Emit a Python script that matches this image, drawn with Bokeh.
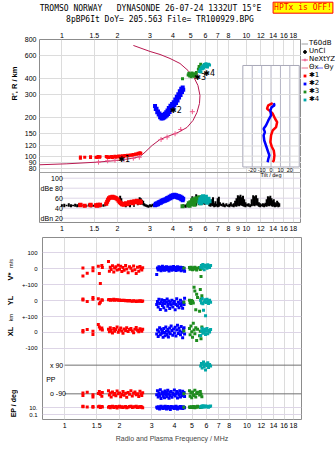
import math
from bokeh.plotting import figure
from bokeh.models import (Range1d, LinearScale, FixedTicker, NumeralTickFormatter, Label,
                          Legend, LegendItem, Span, LogAxis)
from bokeh.layouts import column, row
from bokeh.embed import file_html
from bokeh.resources import INLINE
from bokeh.core.properties import value

# ---------------- ticks / labels ----------------
freq_ticks = [1, 1.5, 2, 3, 4, 5, 6, 7, 8, 10, 12, 14, 16, 18]
freq_ticks_mid = [1, 1.5, 2, 3, 4, 5, 6, 7, 8, 9, 10, 12, 14, 16, 18]
height_ticks = [80, 90, 100, 120, 150, 200, 300, 400, 600, 800]
db_ticks = [100, 80, 60, 40, 20]
db_tick_labels = ["100", "dBe 80", "60", "40", "dBn 20"]
tilt_ticks = [-20, -10, 0, 10, 20]
lower_ticks = [100, 0, -100, -200, -300, -400, -500]
lower_tick_labels = ["100", "0", "+-100", "0", "+-100", "0", "-100"]
ep_ticks = [10, 0.1]
ep_tick_labels = ["10.", "0.1"]

# ---------------- real-height profile (NeXtYZ) ----------------
prof_f = [0.756, 1.064, 1.547, 1.985, 2.442, 2.654, 2.825, 3.083, 3.406, 3.858, 4.264, 4.768,
          5.139, 5.402, 5.574, 5.609, 5.470, 5.204, 4.829, 4.370, 3.858, 3.406, 3.007, 2.442]
prof_h = [85.8, 87.3, 89.9, 92.6, 96.5, 99.5, 107.4, 121.0, 134.7, 144.6, 152.6, 166.8,
          188.9, 217.9, 255.8, 295.0, 352.5, 406.5, 460.6, 521.9, 570.5, 612.7, 646.2, 719.3]
nx_f = [1.58, 1.77, 1.94, 2.17, 2.44, 2.63, 3.45, 3.72, 4.11, 4.41, 5.10]
nx_h = [89.9, 92.1, 93.1, 94.3, 96.5, 98.2, 134.7, 140.5, 149.1, 161.0, 221.0]

# ---------------- echo groups ----------------
r_f = [1.26, 1.26, 1.33, 1.43, 1.43, 1.53, 1.55, 1.57, 1.60, 1.61,
       1.74, 1.76, 1.78, 1.80, 1.83, 1.86, 1.88, 1.91, 1.94, 1.97,
       2.00, 2.03, 2.06, 2.09, 2.12, 2.16, 2.19, 2.23, 2.27, 2.31,
       2.35, 2.39, 2.43, 2.47, 2.51, 2.55, 2.59, 2.62, 2.65, 2.68]
r_h = [96.5, 98.5, 98.2, 98.9, 97.8, 98.2, 97.5, 99.4, 98.0, 99.2,
       99.4, 98.0, 99.0, 97.5, 98.6, 99.6, 97.8, 98.9, 99.8, 98.2,
       99.3, 100.2, 98.6, 99.9, 100.8, 99.5, 101.2, 100.4, 101.8, 100.9,
       102.3, 101.5, 103.2, 102.4, 104.0, 103.3, 105.2, 104.4, 106.3, 105.5]
r_db = [46, 47, 45, 46, 47, 46, 45, 47, 46, 47,
        49, 53, 57, 60, 62, 61, 63, 62, 61, 60,
        58, 55, 52, 50, 48, 47, 49, 50, 48, 52,
        51, 53, 50, 54, 52, 55, 53, 51, 54, 52]
r_v = [4, -45, -28, 6, -12, 16, -30, -92, 20, 8,
       45, -15, 10, -5, 18, -20, 5, 12, -8, 22,
       -3, 15, -18, 8, -10, 20, -2, -25, 12, 3,
       -12, 17, -6, -30, 9, -15, 14, 2, -8, 6]
r_yl = [10, 4, -5, 20, 8, 12, -20, -10, 5, 2,
        5, 7, 3, 6, 4, 8, 2, 5, 6, 3,
        4, 1, 3, 0, 2, -1, 1, -3, 0, -2,
        -4, -1, -3, -5, -2, -4, -1, -3, -6, -2]
r_xl = [12, 3, 18, -12, 8, 50, 35, 22, 28, 15,
        20, 5, 30, 12, -3, 25, 8, 18, 35, 2,
        15, 28, 10, -5, 22, 12, 30, 6, 18, 25,
        10, -2, 20, 32, 14, 5, 24, 16, 8, 20]
r_pp = [-85, -100, -80, -95, -110, -88, -75, -92, -105, -82,
        -70, -98, -85, -110, -78, -95, -88, -102, -72, -90,
        -84, -108, -94, -76, -99, -86, -112, -81, -93, -70,
        -104, -87, -79, -96, -89, -107, -74, -91, -100, -83]
r_ep = [18, 22, 14, 20, 12, 16, 24, 10, 19, 15,
        13, 21, 9, 17, 25, 11, 14, 20, 8, 16,
        23, 12, 18, 10, 15, 21, 9, 13, 19, 24,
        11, 16, 14, 22, 10, 18, 12, 20, 15, 9]

b_f = [3.20, 3.23, 3.26, 3.29, 3.32, 3.35, 3.38, 3.41, 3.44, 3.47,
       3.50, 3.53, 3.56, 3.59, 3.62, 3.65, 3.68, 3.71, 3.74, 3.77,
       3.80, 3.84, 3.88, 3.92, 3.96, 4.00, 4.04, 4.08, 4.12, 4.16,
       4.20, 4.24, 4.28, 4.32, 4.36, 4.40, 4.44, 4.48, 4.52, 4.55]
b_h = [245, 232, 233, 219, 222, 210, 214, 200, 208, 196,
       207, 197, 209, 199, 213, 203, 219, 207, 226, 212,
       236, 220, 246, 230, 254, 238, 262, 248, 274, 258,
       288, 270, 302, 284, 318, 298, 332, 314, 340, 326]
b_db = [46, 49, 47, 50, 48, 52, 50, 53, 51, 55,
        53, 56, 54, 57, 55, 58, 56, 60, 57, 61,
        59, 63, 60, 65, 62, 66, 63, 67, 64, 66,
        62, 65, 61, 64, 60, 63, 58, 61, 56, 59]
b_v = [-36, 5, -8, 12, -3, 8, -12, 2, 15, -6,
       4, -10, 9, -2, 13, -7, 0, 10, -14, 6,
       -4, 11, -9, 3, 14, -5, 7, -11, 1, 12,
       -8, 5, -3, 10, -12, 4, 8, -6, 2, -15]
b_yl = [-25, -5, -40, 8, -18, -55, -10, 5, -30, -15,
        -45, 0, -20, -60, -8, 10, -35, -22, -3, -50,
        -12, -28, 2, -40, -18, -6, -58, -25, 12, -33,
        -10, -45, -20, 3, -30, -15, -48, -8, -25, 15]
b_xl = [-10, 15, -25, 5, 30, -15, 20, -5, 10, -30,
        25, 0, -20, 35, 8, -12, 18, -28, 3, 28,
        -8, 40, 12, -18, 22, -3, 33, -22, 15, 45,
        -6, 26, 10, -15, 38, 2, -33, 20, 30, -10]
b_pp = [-95, -70, -110, -85, -100, -65, -120, -90, -78, -105,
        -88, -115, -72, -96, -82, -108, -68, -92, -118, -80,
        -100, -75, -112, -86, -94, -66, -104, -90, -76, -116,
        -84, -98, -70, -110, -88, -102, -74, -93, -81, -107]
b_ep = [12, 6, 18, 9, 4, 15, 22, 7, 11, 5,
        16, 8, 25, 10, 4, 13, 19, 6, 9, 14,
        3, 20, 11, 7, 17, 5, 12, 24, 8, 4,
        15, 10, 6, 21, 9, 13, 5, 18, 7, 11]

g_f = [4.51, 4.84, 4.88, 4.93, 4.98, 5.03, 5.08, 5.13, 5.18, 5.24, 5.30, 5.36, 5.50, 5.55, 5.60, 5.66]
g_h = [397, 425, 438, 418, 432, 412, 440, 422, 434, 415, 428, 445, 470, 495, 482, 515]
g_db = [44, 46, 50, 45, 52, 48, 56, 50, 58, 47, 54, 60, 55, 62, 50, 57]
g_v = [5, 8, -3, 10, 2, -6, 6, -2, 9, 0, -8, 4, 7, -5, -48, 3]
g_yl = [-10, 2, -12, -18, 0, -5, -15, 84, 60, -58, 40, 20, -66, 70, 10, 30]
g_xl = [10, 25, -15, 40, 5, -30, 58, 15, -8, 30, -50, 20, -20, 8, -40, 35]
g_pp = [-90, -70, -105, -85, -115, -78, -95, -100, -68, -110, -88, -80, -98, -75, -92, -108]
g_ep = [12, 15, 10, 18, 13, 11, 20, 14, 9, 16, 12, 22, 15, 10, 13, 17]

t_f = [5.58, 5.63, 5.68, 5.73, 5.78, 5.83, 5.88, 5.93, 5.98, 6.04, 6.10, 6.16, 6.24, 6.32]
t_h = [452, 470, 448, 488, 475, 500, 482, 512, 495, 520, 505, 490, 515, 508]
t_db = [52, 58, 50, 62, 55, 64, 57, 60, 53, 63, 56, 51, 59, 54]
t_v = [10, 20, 5, 27, 15, -6, 22, 12, 18, 3, 25, 14, 8, 20]
t_yl = [0, -15, 13, -20, -60, -8, 5, -95, -12, 8, -5, -18, 2, -10]
t_xl = [-19, 10, 27, -5, 15, 0, 20, -12, 8, 25, -8, 12, 3, 18]
t_pp = [85, 100, 72, 95, 110, 80, 92, 60, 98, 88, 105, 76, 94, 84]
t_ep = [15, 25, 12, 30, 18, 22, 14, 28, 20, 16, 24, 12, 19, 26]

mk_f = [2.02, 3.86, 5.22, 5.84]
mk_h = [94.8, 225.9, 406.6, 440.0]
mk_txt = ["\u27311", "\u27312", "\u27313", "\u27314"]

# ---------------- unclassified amplitudes (dB panel) ----------------
u_f = [1.00, 1.03, 1.06, 1.09, 1.12, 1.15, 1.18, 1.21, 1.24, 1.28,
       1.32, 1.36, 1.40, 1.44, 1.48, 1.52, 1.56, 1.60, 1.64, 1.68,
       1.72, 2.07, 2.10, 2.13, 2.22, 2.34, 2.46, 2.58, 2.64, 2.68,
       2.72, 2.76, 2.80, 2.85, 2.90, 2.95, 3.00, 3.05, 3.10, 3.15,
       4.56, 4.62, 4.68, 4.74, 4.80, 5.10, 5.35, 5.85, 5.95, 6.30,
       6.40, 6.50, 6.60, 6.70, 6.80, 6.90, 7.00, 7.10, 7.20, 7.35,
       7.50, 7.65, 7.80, 7.95, 8.10, 8.25, 8.40, 8.55, 8.70, 8.85,
       9.00, 9.15, 9.30, 9.45, 9.60, 9.75, 9.90, 10.1, 10.3, 10.5,
       10.7, 10.9, 11.1, 11.3, 11.5, 11.7, 11.9, 12.1, 12.3, 12.5,
       12.7, 12.9, 13.1, 13.3, 13.5, 13.7, 13.9, 14.1, 14.3, 14.5,
       14.7, 14.9, 15.1]
u_lo = [43, 42, 44, 43, 42, 44, 43, 42, 43, 44,
        42, 43, 44, 42, 43, 44, 43, 42, 44, 43,
        44, 50, 47, 45, 42, 42, 43, 46, 48, 47,
        49, 46, 44, 43, 42, 41, 43, 42, 44, 43,
        42, 43, 41, 42, 43, 46, 45, 48, 47, 44,
        43, 45, 44, 42, 43, 44, 42, 43, 45, 44,
        43, 42, 44, 43, 42, 44, 43, 42, 44, 43,
        45, 44, 46, 45, 44, 43, 42, 44, 43, 42,
        44, 45, 44, 46, 45, 43, 42, 44, 43, 42,
        44, 43, 45, 44, 46, 44, 43, 44, 42, 43,
        44, 42, 43]
u_hi = [48, 49, 47, 50, 48, 47, 49, 48, 50, 47,
        48, 46, 49, 48, 47, 49, 47, 48, 46, 48,
        50, 65, 60, 52, 46, 47, 46, 58, 62, 60,
        57, 55, 50, 48, 47, 46, 48, 47, 49, 47,
        48, 46, 47, 48, 49, 64, 68, 66, 60, 55,
        52, 58, 62, 50, 54, 49, 60, 63, 52, 49,
        51, 48, 50, 47, 49, 52, 48, 50, 55, 60,
        66, 64, 67, 62, 65, 58, 52, 49, 50, 48,
        58, 66, 64, 66, 60, 52, 50, 48, 50, 49,
        51, 58, 64, 62, 65, 60, 56, 58, 52, 50,
        55, 52, 50]

# ---------------- tilt profiles (inset) ----------------
tx_h = [257.7, 247.2, 232.9, 226.1, 213.0, 194.9, 183.6, 167.9, 158.2, 144.7, 128.5, 118.9, 110.7, 101.3, 92.6, 89.9]
tx = [1.8, -3.0, -4.3, -1.8, 1.8, 4.3, 6.5, 5.4, 1.8, 0.0, -0.7, 0.7, 2.9, 3.6, 2.9, 1.8]
ty_h = [257.7, 247.2, 240.0, 226.1, 206.8, 189.1, 173.0, 163.0, 153.5, 144.7, 132.3, 121.0, 110.7, 101.3, 95.4, 89.9]
ty = [2.9, 3.6, 0.7, -0.7, 0.0, -2.9, -5.4, -7.9, -6.5, -7.9, -7.2, -5.4, -3.6, -1.8, -2.9, -3.6]

# ---------------- style ----------------
SANS = "Liberation Sans"
MONO = "DejaVu Sans Mono"
RED, BLUE, GREEN, TEAL = "#ff0000", "#0000ff", "#1e8c1e", "#00a8a8"
CRIMSON, PINK = "#b81850", "#f05a8c"
FRAME = "#8c8c8c"
GRID = "#dcdcdc"
LGRID = "#ddd5e6"

XMIN, XMAX = 0.756, 19.93
DB_SEP = 111.4
INSET_TOP, INSET_BOT = 503.5, 82.5
ROW_V, ROW_YL, ROW_XL = 0, -200, -400
PP_C = -695
EP_BASE, EP_SCALE = -893, 22
OFF = [-5.0]   # legend sample glyphs sit outside the (0,1) strip range, so only the legend shows them


def style_axis(ax, size="7px", standoff=3):
    ax.axis_line_color = None
    ax.major_tick_line_color = None
    ax.minor_tick_line_color = None
    ax.major_tick_out = 0
    ax.major_tick_in = 0
    ax.minor_tick_out = 0
    ax.minor_tick_in = 0
    ax.major_label_text_font = SANS
    ax.major_label_text_font_size = size
    ax.major_label_text_color = "black"
    ax.major_label_standoff = standoff


def blank(width, height):
    f = figure(width=width, height=height, x_range=Range1d(0, 1), y_range=Range1d(0, 1),
               x_axis_location=None, y_axis_location=None,
               output_backend="svg", toolbar_location=None,
               min_border_left=0, min_border_right=0, min_border_top=0, min_border_bottom=0,
               outline_line_color=None, border_fill_color="white", background_fill_color="white")
    f.grid.visible = False
    return f


xr = Range1d(XMIN, XMAX)

# ================= header =================
header = blank(335, 28)
header.add_layout(Label(x=150, y=20, x_units="screen", y_units="screen",
                        text="TROMSO NORWAY\u00a0\u00a0\u00a0DYNASONDE 26-07-24 1332UT 15\u00b0E",
                        text_font=MONO, text_font_size="8px", text_align="center", text_baseline="middle",
                        text_color="black"))
header.add_layout(Label(x=159.5, y=9, x_units="screen", y_units="screen",
                        text="8pBP6It DoY= 205.563 File= TR100929.BPG",
                        text_font=MONO, text_font_size="8px", text_align="center", text_baseline="middle",
                        text_color="black"))
header.add_layout(Label(x=302.5, y=20.8, x_units="screen", y_units="screen", text="HPTx is OFF!",
                        text_font=MONO, text_font_size="8px", text_align="center", text_baseline="middle",
                        text_color="#ff0000", background_fill_color="#ffff00",
                        border_line_color="#ff0000", border_line_width=1, padding=1))

# ================= top figure: heights + amplitudes =================
p1 = figure(width=283, height=209, x_axis_type="log", y_axis_type="log",
            x_range=xr, y_range=Range1d(30.67, 800),
            output_backend="svg", toolbar_location=None,
            min_border_left=21, min_border_right=0, min_border_top=11, min_border_bottom=15,
            outline_line_color=FRAME, border_fill_color="white", background_fill_color="white")
p1.extra_x_ranges = {"tilt": Range1d(-246.3, 32.4)}
p1.extra_x_scales = {"tilt": LinearScale()}
p1.extra_y_ranges = {"db": Range1d(11.4, 377.4)}
p1.extra_y_scales = {"db": LinearScale()}

p1.xaxis.ticker = FixedTicker(ticks=freq_ticks_mid)
p1.xaxis.formatter = NumeralTickFormatter(format="0.[0]")
style_axis(p1.xaxis[0], standoff=3)
top_ax = LogAxis(ticker=FixedTicker(ticks=freq_ticks), formatter=NumeralTickFormatter(format="0.[0]"))
style_axis(top_ax, standoff=2)
p1.add_layout(top_ax, "above")
p1.yaxis.ticker = FixedTicker(ticks=height_ticks)
p1.yaxis.formatter = NumeralTickFormatter(format="0")
style_axis(p1.yaxis[0], standoff=3)
p1.xgrid.ticker = FixedTicker(ticks=freq_ticks)
p1.xgrid.grid_line_color = GRID
p1.ygrid.grid_line_color = GRID

# tilt inset
p1.quad(left=-30, right=30, bottom=INSET_BOT, top=INSET_TOP, x_range_name="tilt",
        fill_color="white", line_color="#a8a8b8", line_width=1)
p1.segment(x0=tilt_ticks, x1=tilt_ticks, y0=[INSET_BOT] * len(tilt_ticks), y1=[INSET_TOP] * len(tilt_ticks),
           x_range_name="tilt", line_color="#b4b4c4", line_width=1)
inset_h = [h for h in height_ticks if INSET_BOT < h < INSET_TOP]
p1.segment(x0=[-30] * len(inset_h), x1=[30] * len(inset_h), y0=inset_h, y1=inset_h,
           x_range_name="tilt", line_color=GRID, line_width=1)
p1.line(tx, tx_h, x_range_name="tilt", line_color=RED, line_width=2.5)
p1.line(ty, ty_h, x_range_name="tilt", line_color=BLUE, line_width=2.5)
p1.text(x=tilt_ticks, y=[78.2] * len(tilt_ticks), text=[str(t) for t in tilt_ticks], x_range_name="tilt",
        text_font=value(SANS), text_font_size="5.5px", text_align="center", text_baseline="middle", text_color="black")
p1.text(x=[0], y=[71.5], text=["Tilt / deg"], x_range_name="tilt",
        text_font=value(SANS), text_font_size="5.5px", text_align="center", text_baseline="middle", text_color="black")

# profile + echoes
p1.line(prof_f, prof_h, line_color=CRIMSON, line_width=1)
p1.scatter(nx_f, nx_h, marker="cross", size=5, line_color=PINK, line_width=1)
p1.scatter(r_f, r_h, marker="square", size=3, fill_color=RED, line_color=None)
p1.scatter(b_f, b_h, marker="square", size=4, fill_color=BLUE, line_color=None)
p1.scatter(g_f, g_h, marker="square", size=3, fill_color=GREEN, line_color=None)
p1.scatter(t_f, t_h, marker="square", size=3, fill_color=TEAL, line_color=None)
p1.text(mk_f, mk_h, text=mk_txt, text_font=value("DejaVu Sans"), text_font_size="8px",
        text_align="left", text_baseline="middle", text_color="black")

# amplitude panel
p1.add_layout(Span(location=DB_SEP, dimension="width", y_range_name="db", line_color="#a0a0a0", line_width=1))
p1.segment(x0=[1.0] * len(db_ticks), x1=[XMAX] * len(db_ticks), y0=db_ticks, y1=db_ticks,
           y_range_name="db", line_color=LGRID, line_width=1)
p1.segment(x0=u_f, x1=u_f, y0=u_lo, y1=u_hi, y_range_name="db", line_color="black", line_width=2)
for f, d, c in [(r_f, r_db, RED), (b_f, b_db, BLUE), (g_f, g_db, GREEN), (t_f, t_db, TEAL)]:
    p1.scatter(f, d, y_range_name="db", marker="square", size=4, fill_color=c, line_color=None)
for t, lbl in zip(db_ticks, db_tick_labels):
    p1.add_layout(Label(x=23.3, y=t, x_units="screen", y_range_name="db", text=lbl,
                        text_align="right", text_baseline="middle", text_font=SANS,
                        text_font_size="7px", text_color="black"))

# left label strip for the height panel (its frame is aligned with p1's: canvas y 39..222)
left1 = blank(18, 209)
left1.add_layout(Label(x=13.5, y=139, x_units="screen", y_units="screen", angle=math.pi / 2,
                       text="R', R / km", text_font=SANS, text_font_size="7.5px", text_font_style="bold",
                       text_align="center", text_baseline="middle", text_color="black"))

# legend strip (frame aligned with p1's: canvas y 39..222)
legfig = blank(34, 209)
d_t60 = legfig.line(x=OFF * 2, y=OFF * 2, line_color="#a0a0a0", line_width=1)
d_uncl = legfig.scatter(x=OFF, y=OFF, marker="circle", size=2, fill_color="black", line_color="black")
d_nxl = legfig.line(x=OFF * 2, y=OFF * 2, line_color=PINK, line_width=1)
d_nxm = legfig.scatter(x=OFF, y=OFF, marker="cross", size=6, line_color=PINK, line_width=1)
d_thx = legfig.line(x=OFF * 2, y=OFF * 2, line_color="#e87090", line_width=1)
d_thy = legfig.line(x=OFF * 2, y=OFF * 2, line_color="#7070ff", line_width=1)
d_s = [legfig.scatter(x=OFF, y=OFF, marker="square", size=4, fill_color=c, line_color=None)
       for c in (RED, BLUE, GREEN, TEAL)]


def mk_legend(items, loc):
    return Legend(items=items, location=loc, orientation="vertical",
                  label_text_font="DejaVu Sans", label_text_font_size="7px", label_text_color="black",
                  glyph_width=7, glyph_height=7, label_height=7, label_standoff=1,
                  spacing=0, padding=0, margin=0, border_line_color=None, background_fill_alpha=0)


legA = mk_legend([LegendItem(label="T60dB", renderers=[d_t60]),
                  LegendItem(label="UnCl", renderers=[d_uncl]),
                  LegendItem(label="NeXtYZ", renderers=[d_nxl, d_nxm]),
                  LegendItem(label="\u0398x", renderers=[d_thx]),
                  LegendItem(label="\u27311", renderers=[d_s[0]]),
                  LegendItem(label="\u27312", renderers=[d_s[1]]),
                  LegendItem(label="\u27313", renderers=[d_s[2]]),
                  LegendItem(label="\u27314", renderers=[d_s[3]])], (0, 119))
legB = mk_legend([LegendItem(label="\u0398y", renderers=[d_thy])], (15, 151))
legfig.add_layout(legA)
legfig.add_layout(legB)

# ================= lower figure: drift / polarisation =================
p2 = figure(width=317, height=214, x_axis_type="log", x_range=xr, y_range=Range1d(-946, 196),
            output_backend="svg", toolbar_location=None,
            min_border_left=21, min_border_right=34, min_border_top=0, min_border_bottom=32,
            outline_line_color=FRAME, border_fill_color="white", background_fill_color="white")
p2.xaxis.ticker = FixedTicker(ticks=freq_ticks)
p2.xaxis.formatter = NumeralTickFormatter(format="0.[0]")
style_axis(p2.xaxis[0], standoff=3)
p2.xaxis.axis_label = "Radio and Plasma Frequency / MHz"
p2.xaxis.axis_label_text_font = SANS
p2.xaxis.axis_label_text_font_size = "7px"
p2.xaxis.axis_label_text_font_style = "normal"
p2.xaxis.axis_label_standoff = 4

ep_tick_pos = [EP_BASE + EP_SCALE * math.log10(e) for e in ep_ticks]
all_ticks = lower_ticks + ep_tick_pos
p2.yaxis.ticker = FixedTicker(ticks=all_ticks)
p2.yaxis.major_label_overrides = {t: l for t, l in zip(all_ticks, lower_tick_labels + ep_tick_labels)}
style_axis(p2.yaxis[0], size="6px", standoff=5)
p2.xgrid.ticker = FixedTicker(ticks=freq_ticks)
p2.xgrid.grid_line_color = GRID
p2.ygrid.grid_line_color = LGRID

p2.segment(x0=[1.0, 1.0], x1=[XMAX, XMAX], y0=[PP_C + 90, PP_C - 90], y1=[PP_C + 90, PP_C - 90],
           line_color="#707070", line_width=1)


def lower_y(v, yl, xl, pp, ep):
    return ([ROW_V + a for a in v] + [ROW_YL + a for a in yl] + [ROW_XL + a for a in xl]
            + [PP_C + a for a in pp] + [EP_BASE + EP_SCALE * math.log10(a) for a in ep])


for f, v, yl, xl, pp, ep, c in [(r_f, r_v, r_yl, r_xl, r_pp, r_ep, RED),
                                (b_f, b_v, b_yl, b_xl, b_pp, b_ep, BLUE),
                                (g_f, g_v, g_yl, g_xl, g_pp, g_ep, GREEN),
                                (t_f, t_v, t_yl, t_xl, t_pp, t_ep, TEAL)]:
    p2.scatter(f * 5, lower_y(v, yl, xl, pp, ep), marker="square", size=3, fill_color=c, line_color=None)

for txt, x, y in [("x 90", 7.5, PP_C + 90), ("PP", 3.7, PP_C), ("o -90", 7.5, PP_C - 90)]:
    p2.add_layout(Label(x=x, y=y, x_units="screen", text=txt, text_align="left", text_baseline="middle",
                        text_font=SANS, text_font_size="7px", text_color="black"))

# left label strip for the lower panel (frame aligned with p2's: canvas y 237..419)
left2 = blank(18, 214)
for txt, x, y, sz, st in [("V*", 9.5, 143, "7.5px", "bold"), ("m/s", 10, 156, "5.5px", "normal"),
                          ("YL", 9.5, 119, "7.5px", "bold"), ("km", 10.5, 102, "5.5px", "normal"),
                          ("XL", 9.5, 88, "7.5px", "bold"), ("EP / deg", 13, 16, "7px", "bold")]:
    left2.add_layout(Label(x=x, y=y, x_units="screen", y_units="screen", angle=math.pi / 2, text=txt,
                           text_align="center", text_baseline="middle", text_font=SANS,
                           text_font_size=sz, text_font_style=st, text_color="black"))

layout = column(header, row(left1, p1, legfig, spacing=0), row(left2, p2, spacing=0), spacing=0)
open("out.html", "w").write(file_html(layout, INLINE))
